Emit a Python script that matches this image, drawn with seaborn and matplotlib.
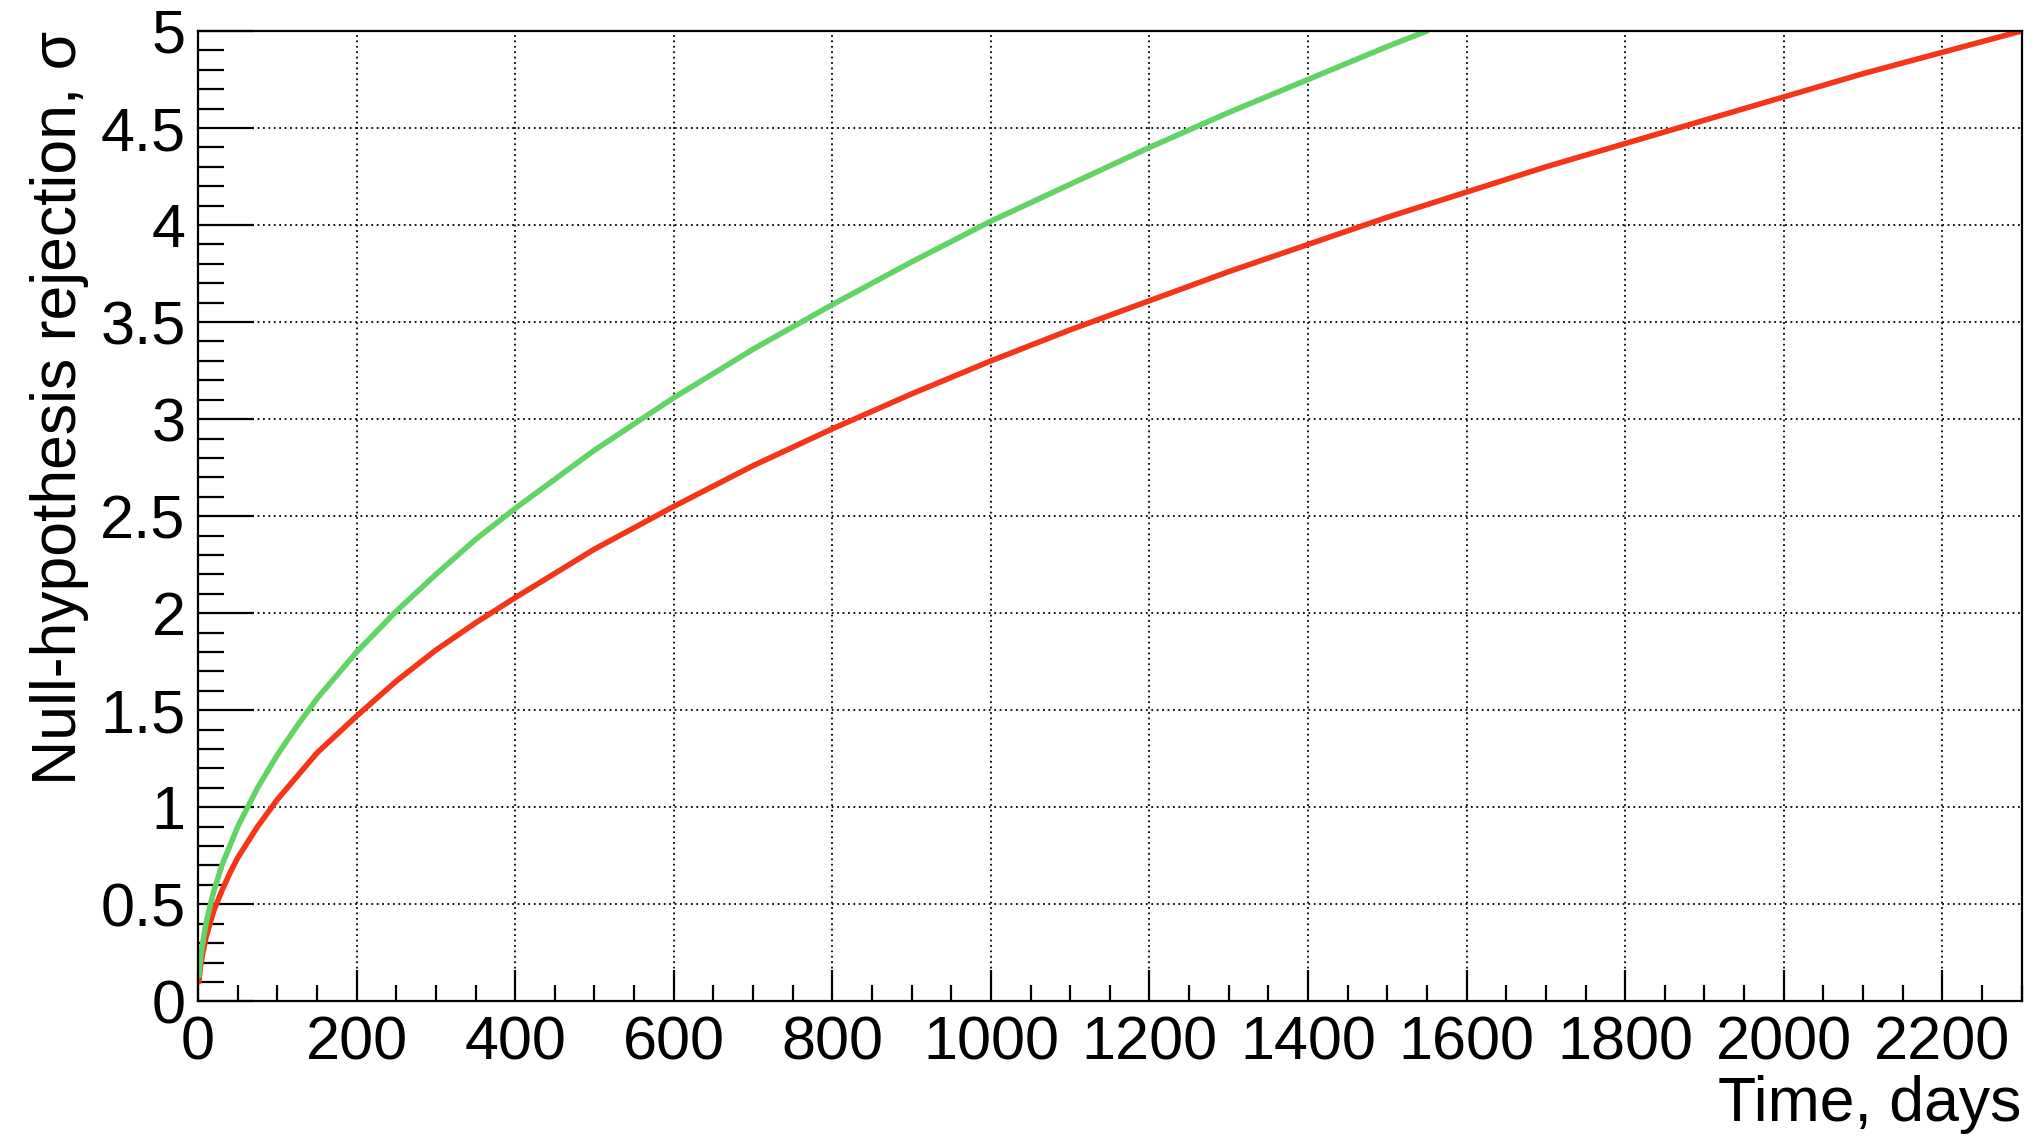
import pandas as pd
import matplotlib
matplotlib.use('Agg')
import matplotlib.pyplot as plt
from matplotlib.ticker import MultipleLocator
import seaborn as sns

# red curve (slower)
red_days = [1, 3, 5, 10, 15, 20, 30, 40, 50, 75, 100, 125, 150, 200, 250, 300, 350,
            400, 500, 600, 700, 800, 900, 1000, 1100, 1200, 1300, 1400, 1500, 1600,
            1700, 1800, 1900, 2000, 2100, 2200, 2300]
red_sigma = [0.10, 0.18, 0.23, 0.33, 0.40, 0.47, 0.57, 0.66, 0.74, 0.90, 1.04, 1.16,
             1.28, 1.47, 1.65, 1.81, 1.95, 2.08, 2.33, 2.55, 2.76, 2.95, 3.13, 3.30,
             3.46, 3.61, 3.76, 3.90, 4.04, 4.17, 4.30, 4.42, 4.54, 4.66, 4.78, 4.89,
             5.00]

# green curve (faster)
green_days = [1, 3, 5, 10, 15, 20, 30, 40, 50, 75, 100, 125, 150, 200, 250, 300, 350,
              400, 500, 600, 700, 800, 900, 1000, 1100, 1200, 1300, 1400, 1500, 1550]
green_sigma = [0.13, 0.22, 0.28, 0.40, 0.49, 0.57, 0.70, 0.80, 0.90, 1.10, 1.27, 1.42,
               1.56, 1.80, 2.01, 2.20, 2.38, 2.54, 2.84, 3.11, 3.36, 3.59, 3.81, 4.02,
               4.21, 4.40, 4.58, 4.75, 4.92, 5.00]

df = pd.concat([
    pd.DataFrame({'days': red_days, 'sigma': red_sigma, 'curve': 'red'}),
    pd.DataFrame({'days': green_days, 'sigma': green_sigma, 'curve': 'green'}),
])

sns.set_theme(style='ticks')
plt.rcParams['font.family'] = ['Liberation Sans', 'DejaVu Sans']
plt.rcParams['text.color'] = 'black'
plt.rcParams['axes.labelcolor'] = 'black'

fig = plt.figure(figsize=(20.42, 11.47), dpi=100)
ax = fig.add_axes([0.097, 0.127, 0.893, 0.846])

sns.lineplot(data=df, x='days', y='sigma', hue='curve',
             palette={'red': '#f63418', 'green': '#62d466'},
             linewidth=4.0, legend=False, ax=ax, sort=False)

ax.set_xlim(0, 2300)
ax.set_ylim(0, 5)
ax.xaxis.set_major_locator(MultipleLocator(200))
ax.xaxis.set_minor_locator(MultipleLocator(50))
ax.yaxis.set_major_locator(MultipleLocator(0.5))
ax.yaxis.set_minor_locator(MultipleLocator(0.1))
ax.set_yticks([0, 0.5, 1, 1.5, 2, 2.5, 3, 3.5, 4, 4.5, 5])
ax.set_yticklabels(['0', '0.5', '1', '1.5', '2', '2.5', '3', '3.5', '4', '4.5', '5'])

ax.grid(True, which='major', color='black', linestyle=(0, (1, 2)), linewidth=1.3)
ax.tick_params(axis='both', which='both', direction='in', colors='black',
               labelcolor='black', labelsize=44, width=1.6, top=False, right=False)
ax.tick_params(axis='y', which='major', length=40, pad=9)
ax.tick_params(axis='y', which='minor', length=19)
ax.tick_params(axis='x', which='major', length=22, pad=10)
ax.tick_params(axis='x', which='minor', length=11.5)
for s in ax.spines.values():
    s.set_linewidth(1.6)
    s.set_color('black')

ax.set_xlabel('Time, days', fontsize=45, loc='right', labelpad=2)
ax.set_ylabel('Null-hypothesis rejection, σ', fontsize=45, loc='top', labelpad=8)

fig.savefig('out.png', dpi=100, facecolor='white')
